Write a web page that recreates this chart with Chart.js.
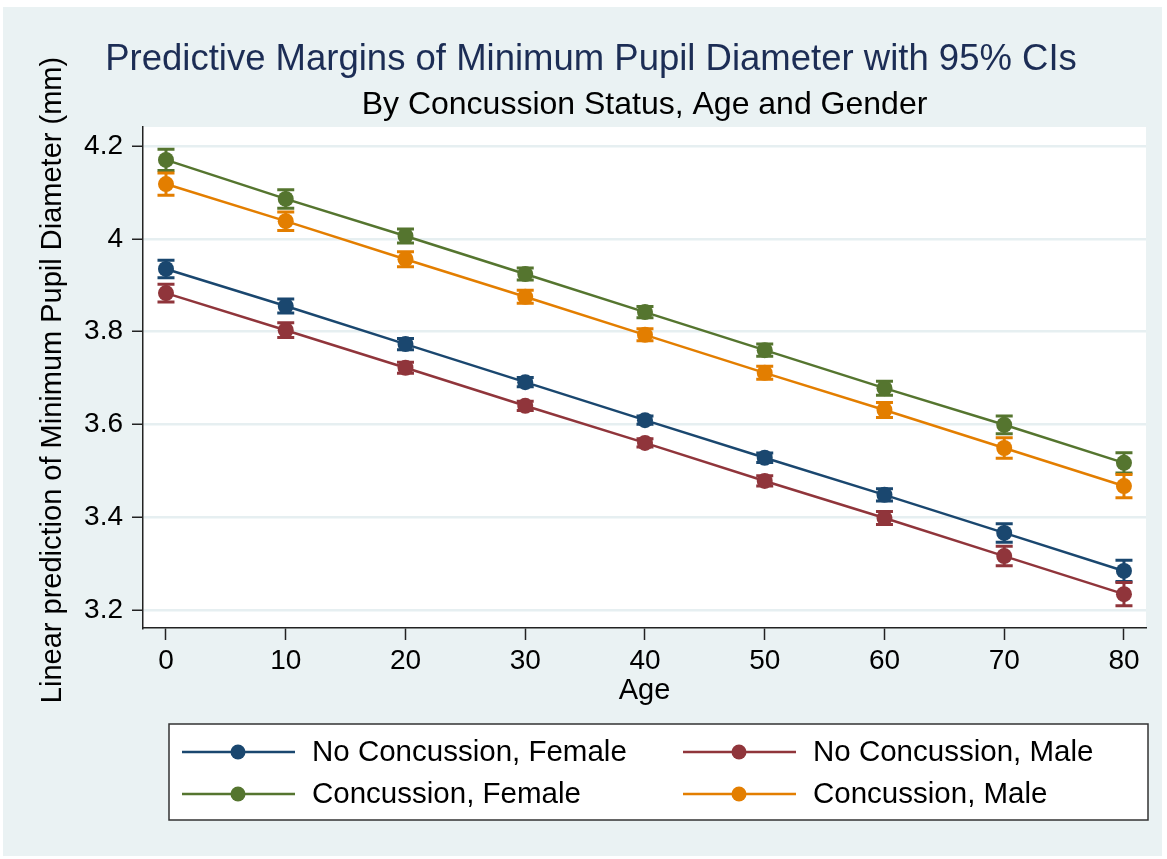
<!DOCTYPE html>
<html>
<head>
<meta charset="utf-8">
<script src="https://cdn.jsdelivr.net/npm/chart.js@4.4.1/dist/chart.umd.min.js"></script>
<style>
  html, body { margin: 0; padding: 0; background: #ffffff; }
  canvas { display: block; }
</style>
</head>
<body>
<canvas id="c" width="1167" height="859"></canvas>
<script>
// ---- data ----
const ages = [0, 10, 20, 30, 40, 50, 60, 70, 80];
const xTickValues = [0, 10, 20, 30, 40, 50, 60, 70, 80];
const yTickValues = [3.2, 3.4, 3.6, 3.8, 4.0, 4.2];
const yTickLabels = ['3.2', '3.4', '3.6', '3.8', '4', '4.2'];

const seriesNames = ['No Concussion, Female', 'No Concussion, Male', 'Concussion, Female', 'Concussion, Male'];

const noConcFemale = [3.935, 3.855, 3.773, 3.691, 3.609, 3.528, 3.448, 3.366, 3.284];
const noConcMale   = [3.883, 3.803, 3.722, 3.640, 3.560, 3.478, 3.398, 3.316, 3.234];
const concFemale   = [4.170, 4.086, 4.006, 3.924, 3.842, 3.760, 3.678, 3.599, 3.517];
const concMale     = [4.118, 4.038, 3.956, 3.875, 3.793, 3.711, 3.631, 3.549, 3.467];

// 95% CI half-widths
const noConcFemaleCI = [0.019, 0.015, 0.012, 0.010, 0.009, 0.010, 0.013, 0.020, 0.023];
const noConcMaleCI   = [0.019, 0.016, 0.012, 0.010, 0.009, 0.011, 0.014, 0.021, 0.025];
const concFemaleCI   = [0.023, 0.020, 0.015, 0.013, 0.012, 0.013, 0.015, 0.019, 0.022];
const concMaleCI     = [0.024, 0.020, 0.016, 0.014, 0.013, 0.014, 0.016, 0.022, 0.025];

const colors = ['#1a476f', '#90353b', '#55752f', '#e37e00'];
const FONT = '"Liberation Sans", Arial, Helvetica, sans-serif';

function mk(i, vals, ci) {
  return {
    label: seriesNames[i],
    data: ages.map((a, k) => ({ x: a, y: vals[k] })),
    ci: ci,
    borderColor: colors[i],
    backgroundColor: colors[i],
    pointBackgroundColor: colors[i],
    pointBorderColor: colors[i],
    pointRadius: 8,
    pointBorderWidth: 0,
    borderWidth: 2.5,
    tension: 0,
    fill: false
  };
}

const datasets = [
  mk(0, noConcFemale, noConcFemaleCI),
  mk(1, noConcMale, noConcMaleCI),
  mk(2, concFemale, concFemaleCI),
  mk(3, concMale, concMaleCI)
];

const bgPlugin = {
  id: 'bg',
  beforeDraw(chart) {
    const ctx = chart.ctx, a = chart.chartArea;
    ctx.save();
    ctx.fillStyle = '#ffffff';
    ctx.fillRect(0, 0, chart.width, chart.height);
    ctx.fillStyle = '#eaf2f3';
    ctx.fillRect(3, 7, 1159, 849);
    ctx.fillStyle = '#ffffff';
    ctx.fillRect(a.left, a.top, a.right - a.left, a.bottom - a.top);
    ctx.restore();
  }
};

const errPlugin = {
  id: 'errbars',
  beforeDatasetsDraw(chart) {
    const ctx = chart.ctx, xs = chart.scales.x, ys = chart.scales.y;
    ctx.save();
    chart.data.datasets.forEach((ds) => {
      ctx.strokeStyle = ds.borderColor;
      ctx.lineWidth = 3;
      ds.data.forEach((p, k) => {
        const px = xs.getPixelForValue(p.x);
        const lo = ys.getPixelForValue(p.y - ds.ci[k]);
        const hi = ys.getPixelForValue(p.y + ds.ci[k]);
        ctx.beginPath();
        ctx.moveTo(px, lo); ctx.lineTo(px, hi);
        ctx.moveTo(px - 8.5, lo); ctx.lineTo(px + 8.5, lo);
        ctx.moveTo(px - 8.5, hi); ctx.lineTo(px + 8.5, hi);
        ctx.stroke();
      });
    });
    ctx.restore();
  }
};

const textPlugin = {
  id: 'texts',
  afterDraw(chart) {
    const ctx = chart.ctx, a = chart.chartArea;
    const cx = (a.left + a.right) / 2;
    ctx.save();
    ctx.textBaseline = 'alphabetic';
    ctx.textAlign = 'center';
    // title
    ctx.fillStyle = '#1c2d55';
    ctx.font = '36.5px ' + FONT;
    ctx.fillText('Predictive Margins of Minimum Pupil Diameter with 95% CIs', 591, 70);
    // subtitle
    ctx.fillStyle = '#000000';
    ctx.font = '32px ' + FONT;
    ctx.fillText('By Concussion Status, Age and Gender', cx, 114);
    // x title
    ctx.font = '29px ' + FONT;
    ctx.fillText('Age', cx, 699);
    // y title
    ctx.save();
    ctx.translate(61, 380);
    ctx.rotate(-Math.PI / 2);
    ctx.font = '29px ' + FONT;
    ctx.fillText('Linear prediction of Minimum Pupil Diameter (mm)', 0, 0);
    ctx.restore();

    // legend box
    const L = { left: 169, top: 724, right: 1148, bottom: 820 };
    ctx.fillStyle = '#ffffff';
    ctx.fillRect(L.left, L.top, L.right - L.left, L.bottom - L.top);
    ctx.strokeStyle = '#333333';
    ctx.lineWidth = 1.5;
    ctx.strokeRect(L.left, L.top, L.right - L.left, L.bottom - L.top);
    const cols = [182, 683];
    const rows = [752, 794];
    const order = [0, 1, 2, 3];
    order.forEach((di, n) => {
      const ds = chart.data.datasets[di];
      const x0 = cols[n % 2], y0 = rows[Math.floor(n / 2)];
      ctx.strokeStyle = ds.borderColor;
      ctx.lineWidth = 2.5;
      ctx.beginPath(); ctx.moveTo(x0, y0); ctx.lineTo(x0 + 113, y0); ctx.stroke();
      ctx.fillStyle = ds.borderColor;
      ctx.beginPath(); ctx.arc(x0 + 56, y0, 7.5, 0, Math.PI * 2); ctx.fill();
      ctx.fillStyle = '#000000';
      ctx.textAlign = 'left';
      ctx.textBaseline = 'middle';
      ctx.font = '29.5px ' + FONT;
      ctx.fillText(ds.label, x0 + 130, y0 + 1);
    });
    ctx.restore();
  }
};

new Chart(document.getElementById('c'), {
  type: 'line',
  data: { datasets: datasets },
  options: {
    responsive: false,
    animation: false,
    layout: { padding: { top: 127, right: 21, left: 0, bottom: 0 } },
    plugins: { legend: { display: false }, tooltip: { enabled: false }, title: { display: false } },
    scales: {
      x: {
        type: 'linear',
        min: -1.92, max: 81.84,
        afterBuildTicks(s) { s.ticks = xTickValues.map(v => ({ value: v })); },
        afterFit(s) { s.height = 231; },
        ticks: { color: '#000', font: { size: 28, family: FONT }, padding: 4, maxRotation: 0, autoSkip: false,
                 callback: (v) => String(v) },
        grid: { drawOnChartArea: false, drawTicks: true, tickLength: 12, tickColor: '#222', tickWidth: 1.5 },
        border: { display: true, color: '#222', width: 1.5 }
      },
      y: {
        type: 'linear',
        min: 3.161, max: 4.241,
        afterBuildTicks(s) { s.ticks = yTickValues.map(v => ({ value: v })); },
        afterFit(s) { s.width = 143; },
        ticks: { color: '#000', font: { size: 28, family: FONT }, padding: 9, autoSkip: false,
                 callback: (v) => { const i = yTickValues.findIndex(t => Math.abs(t - v) < 1e-6); return i >= 0 ? yTickLabels[i] : ''; } },
        grid: { color: '#e6eff1', lineWidth: 2.5, drawTicks: true, tickLength: 11, tickColor: '#222', tickWidth: 1.5 },
        border: { display: true, color: '#222', width: 1.5 }
      }
    }
  },
  plugins: [bgPlugin, errPlugin, textPlugin]
});
</script>
</body>
</html>
